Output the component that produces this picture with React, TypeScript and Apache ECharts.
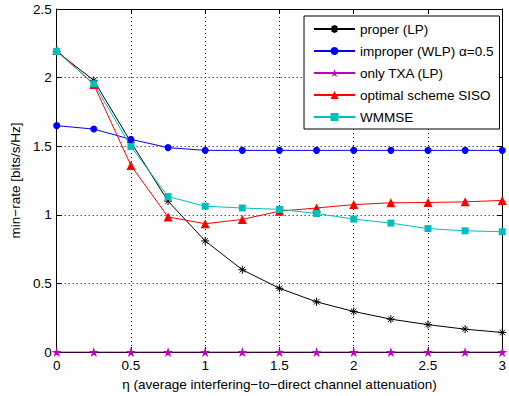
import React, { useEffect, useRef } from "react";
import * as echarts from "echarts";

const etaValues = [0, 0.25, 0.5, 0.75, 1, 1.25, 1.5, 1.75, 2, 2.25, 2.5, 2.75, 3];
const properLP = [2.19, 1.98, 1.53, 1.10, 0.81, 0.60, 0.465, 0.366, 0.296, 0.24, 0.20, 0.167, 0.143];
const improperWLP = [1.65, 1.625, 1.55, 1.49, 1.47, 1.47, 1.47, 1.47, 1.47, 1.47, 1.47, 1.47, 1.47];
const onlyTXA = [0, 0, 0, 0, 0, 0, 0, 0, 0, 0, 0, 0, 0];
const optimalSISO = [2.2, 1.95, 1.36, 0.985, 0.935, 0.967, 1.027, 1.05, 1.075, 1.088, 1.09, 1.095, 1.105];
const wmmse = [2.19, 1.955, 1.497, 1.133, 1.063, 1.05, 1.04, 1.01, 0.969, 0.94, 0.90, 0.884, 0.877];

const seriesNames = ["proper (LP)", "improper (WLP) α=0.5", "only TXA (LP)", "optimal scheme SISO", "WMMSE"];
const xTickLabels = ["0", "0.5", "1", "1.5", "2", "2.5", "3"];
const yTickLabels = ["0", "0.5", "1", "1.5", "2", "2.5"];

const FONT = "Liberation Sans, Arial, Helvetica, sans-serif";
const FS = 13.5;
const STAR = "path://M100 0 L122.45 69.1 L195.1 69.1 L136.3 111.8 L158.8 180.9 L100 138.2 L41.2 180.9 L63.7 111.8 L4.9 69.1 L77.55 69.1 Z";
const ASTERISK = "path://M5 0 L5 10 M0 5 L10 5 M1.6 1.6 L8.4 8.4 M1.6 8.4 L8.4 1.6";

function pairs(ys: number[]) {
  return etaValues.map((x, i) => [x, ys[i]]);
}

export default function App() {
  const ref = useRef<HTMLDivElement>(null);
  useEffect(() => {
    document.body.style.margin = "0";
    const chart = echarts.init(ref.current!, undefined, { renderer: "svg" });
    const axisCommon = {
      axisLine: { show: true, onZero: false, lineStyle: { color: "#000", width: 1 } },
      axisTick: { show: true, inside: true, length: 5, lineStyle: { color: "#000" } },
    };
    const xLabelFmt = (v: number) => xTickLabels[Math.round(v / 0.5)] ?? "";
    const yLabelFmt = (v: number) => yTickLabels[Math.round(v / 0.5)] ?? "";
    chart.setOption({
      animation: false,
      backgroundColor: "#fff",
      textStyle: { fontFamily: FONT },
      grid: { left: 56, right: 3, top: 9, bottom: 43 },
      legend: {
        orient: "vertical",
        left: 304,
        top: 16,
        padding: [6, 6, 5, 9],
        itemGap: 8,
        itemWidth: 41,
        itemHeight: 10,
        backgroundColor: "#fff",
        borderColor: "#000",
        borderWidth: 1,
        borderRadius: 0,
        textStyle: { fontFamily: FONT, fontSize: FS, lineHeight: 14, color: "#000", padding: [0, 0, 0, 0] },
        data: seriesNames,
      },
      xAxis: [
        {
          type: "value",
          min: 0,
          max: 3,
          interval: 0.5,
          name: "η (average interfering−to−direct channel attenuation)",
          nameLocation: "middle",
          nameGap: 22,
          nameTextStyle: { fontFamily: FONT, fontSize: FS, color: "#000" },
          ...axisCommon,
          axisLabel: { color: "#000", fontFamily: FONT, fontSize: FS, margin: 6, formatter: xLabelFmt },
          splitLine: { show: true, lineStyle: { color: "#000", type: [1, 3], width: 1 } },
        },
        {
          type: "value",
          position: "top",
          min: 0,
          max: 3,
          interval: 0.5,
          ...axisCommon,
          axisLabel: { show: false },
          splitLine: { show: false },
        },
      ],
      yAxis: [
        {
          type: "value",
          min: 0,
          max: 2.5,
          interval: 0.5,
          name: "min−rate [bits/s/Hz]",
          nameLocation: "middle",
          nameGap: 25,
          nameTextStyle: { fontFamily: FONT, fontSize: FS, color: "#000" },
          ...axisCommon,
          axisLabel: { color: "#000", fontFamily: FONT, fontSize: FS, margin: 5, formatter: yLabelFmt },
          splitLine: { show: true, lineStyle: { color: "#000", type: [1, 3], width: 1 } },
        },
        {
          type: "value",
          position: "right",
          min: 0,
          max: 2.5,
          interval: 0.5,
          ...axisCommon,
          axisLabel: { show: false },
          splitLine: { show: false },
        },
      ],
      series: [
        {
          name: seriesNames[0],
          type: "line",
          data: pairs(properLP),
          symbol: ASTERISK,
          symbolSize: 8,
          lineStyle: { color: "#000", width: 1 },
          itemStyle: { color: "#000", borderColor: "#000", borderWidth: 1 },
        },
        {
          name: seriesNames[1],
          type: "line",
          data: pairs(improperWLP),
          symbol: "circle",
          symbolSize: 7,
          lineStyle: { color: "#0000ff", width: 1 },
          itemStyle: { color: "#0000ff" },
        },
        {
          name: seriesNames[2],
          type: "line",
          data: pairs(onlyTXA),
          symbol: STAR,
          symbolSize: 10,
          lineStyle: { color: "#bf00bf", width: 1 },
          itemStyle: { color: "#bf00bf" },
        },
        {
          name: seriesNames[3],
          type: "line",
          data: pairs(optimalSISO),
          symbol: "triangle",
          symbolSize: 9,
          lineStyle: { color: "#ff0000", width: 1 },
          itemStyle: { color: "#ff0000" },
        },
        {
          name: seriesNames[4],
          type: "line",
          data: pairs(wmmse),
          symbol: "rect",
          symbolSize: 7,
          lineStyle: { color: "#00bfbf", width: 1 },
          itemStyle: { color: "#00bfbf" },
        },
      ],
    });
    return () => chart.dispose();
  }, []);
  return <div ref={ref} style={{ width: 509, height: 396 }} />;
}
